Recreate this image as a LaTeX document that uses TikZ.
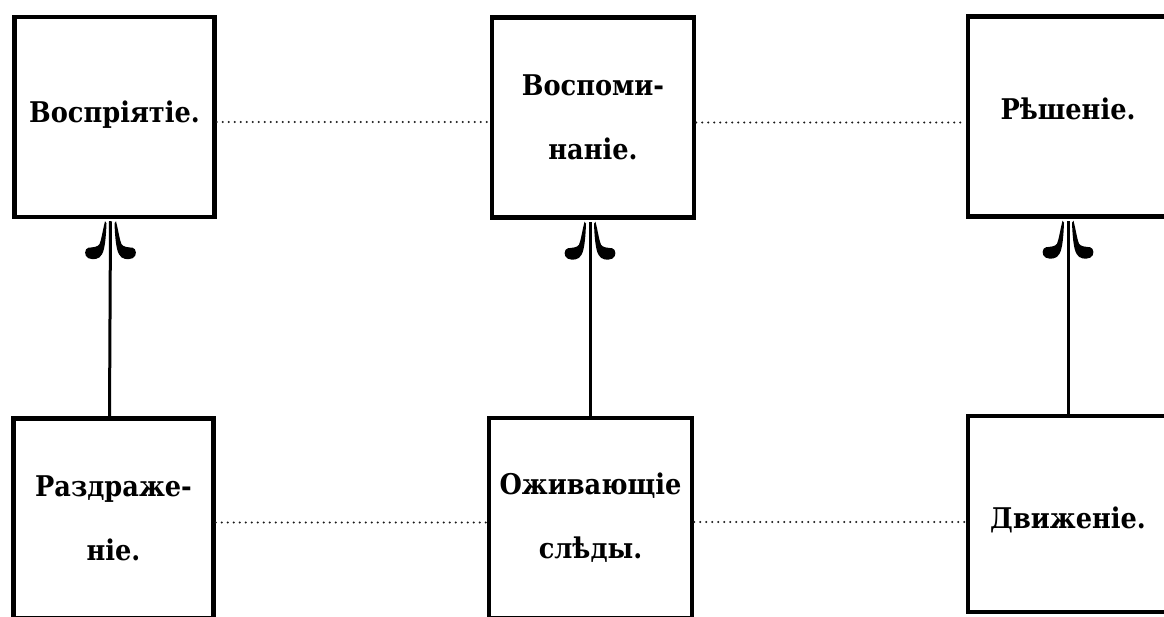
\documentclass[tikz,border=0pt]{standalone}
\usepackage{fontspec}
\setmainfont{DejaVu Serif Condensed}
\begin{document}
\begin{tikzpicture}[x=1pt,y=-1pt,
  box/.style={draw=black, line width=4.5pt, minimum width=200pt, minimum height=#1,
    inner sep=0pt, align=center, font=\fontsize{28.5}{64}\selectfont\bfseries},
  box/.default=200pt,
  oneline/.style 2 args={text height=#1, text depth=#2},
  stem/.style={draw=black, line width=3pt},
  dotline/.style={draw=black!90, line width=2.3pt, line cap=round, dash pattern=on 0pt off 6pt},
  barb/.pic={
    \fill[black] (-5.5,0) .. controls (-8,10) and (-9,18) .. (-11,23)
      .. controls (-13,26) and (-18,26) .. (-22,26.5)
      .. controls (-26,27) and (-27,35) .. (-22,37)
      .. controls (-17,39) and (-11,38) .. (-8.5,33)
      .. controls (-5.5,28) and (-4.5,15) .. (-4,2) -- cycle;
  },
  curlhead/.pic={
    \pic {barb};
    \pic[xscale=-1] {barb};
  }]
\useasboundingbox (0,0) rectangle (1164,617);
\clip (0,0) rectangle (1164,617);

% upper row
\node[box, oneline={22pt}{10pt}] (perc) at (114.5,117) {Воспріятіе.};
\node[box, minimum width=202pt] (mem) at (593,117.5) {Воспоми-\\наніе.};
\node[box, oneline={22pt}{15pt}] (dec) at (1068,116.5) {Рѣшеніе.};

% lower row
\node[box] (irr) at (113.5,518.5) {Раздраже-\\ніе.};
\node[box, minimum width=203pt] (trace) at (590.5,518) {Оживающіе\\слѣды.};
\node[box, minimum height=196pt, oneline={28pt}{0pt}] (mov) at (1068,514) {Движеніе.};

% dotted links between boxes of a row
\draw[dotline] ([yshift=-5pt]perc.east) -- ([yshift=-5pt]perc.east -| mem.west);
\draw[dotline] ([yshift=-5pt]mem.east) -- ([yshift=-5pt]mem.east -| dec.west);
\draw[dotline] ([yshift=-4pt]irr.east) -- ([yshift=-4pt]irr.east -| trace.west);
\draw[dotline] ([yshift=-4pt]trace.east) -- ([yshift=-4pt]trace.east -| mov.west);

% upward arrows with curled heads
\draw[stem] ([xshift=-4pt]irr.north) -- ([xshift=-4pt,yshift=-2pt]perc.south);
\pic at ([xshift=-4pt,yshift=-2pt]perc.south) {curlhead};
\draw[stem] ([xshift=-0.5pt]trace.north) -- ([xshift=-3pt,yshift=-2pt]mem.south);
\pic at ([xshift=-3pt,yshift=-2pt]mem.south) {curlhead};
\draw[stem] (mov.north) -- ([yshift=-2pt]dec.south);
\pic at ([yshift=-2pt]dec.south) {curlhead};
\end{tikzpicture}
\end{document}
